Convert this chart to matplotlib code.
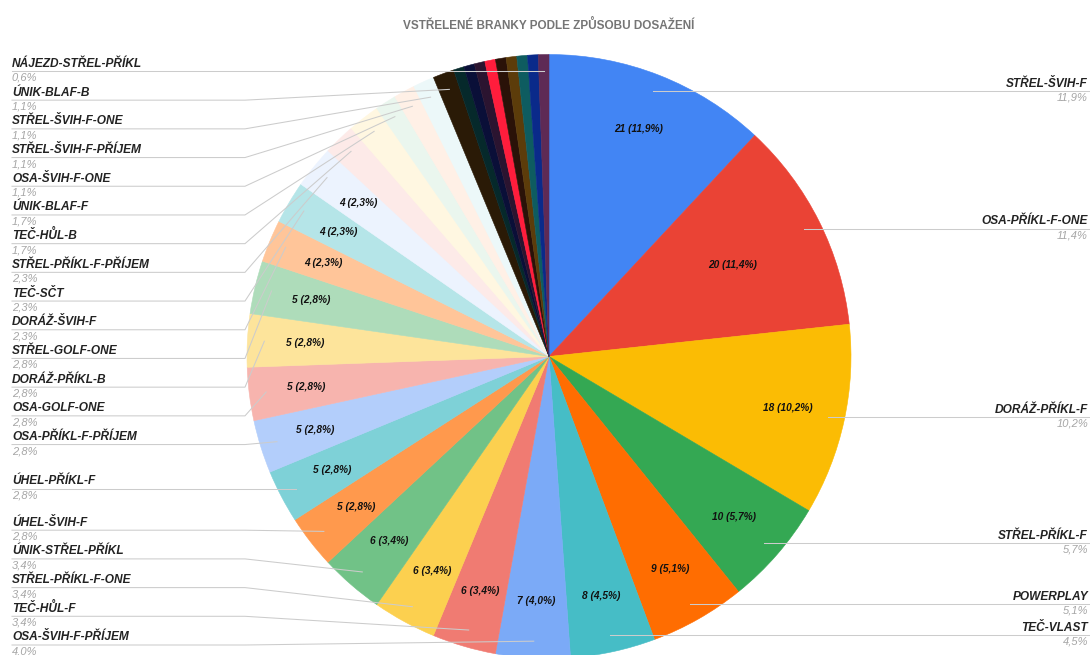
"""Goals by type of scoring: Google-Sheets-style pie with leader-line labels."""

import matplotlib

matplotlib.use("Agg")
import matplotlib.pyplot as plt  # noqa: E402
import numpy as np  # noqa: E402

plt.rcParams["font.family"] = ["Liberation Sans", "DejaVu Sans"]

TITLE = "VSTŘELENÉ BRANKY PODLE ZPŮSOBU DOSAŽENÍ"

# slices in clock order from 12 o'clock; "" = slice whose label is hidden
names = [
    "STŘEL-ŠVIH-F", "OSA-PŘÍKL-F-ONE", "DORÁŽ-PŘÍKL-F", "STŘEL-PŘÍKL-F",
    "POWERPLAY", "TEČ-VLAST", "OSA-ŠVIH-F-PŘÍJEM", "TEČ-HŮL-F",
    "STŘEL-PŘÍKL-F-ONE", "ÚNIK-STŘEL-PŘÍKL", "ÚHEL-ŠVIH-F", "ÚHEL-PŘÍKL-F",
    "OSA-PŘÍKL-F-PŘÍJEM", "OSA-GOLF-ONE", "DORÁŽ-PŘÍKL-B", "STŘEL-GOLF-ONE",
    "DORÁŽ-ŠVIH-F", "TEČ-SČT", "STŘEL-PŘÍKL-F-PŘÍJEM", "TEČ-HŮL-B",
    "ÚNIK-BLAF-F", "OSA-ŠVIH-F-ONE", "STŘEL-ŠVIH-F-PŘÍJEM", "STŘEL-ŠVIH-F-ONE",
    "ÚNIK-BLAF-B", "", "", "", "", "", "", "", "", "NÁJEZD-STŘEL-PŘÍKL",
]
counts = [
    21, 20, 18, 10, 9, 8, 7, 6, 6, 6, 5, 5, 5, 5, 5, 5, 4, 4, 4, 3,
    3, 2, 2, 2, 2, 1, 1, 1, 1, 1, 1, 1, 1, 1,
]
colors = [
    "#4285f4", "#ea4335", "#fbbc04", "#34a853", "#ff6d01", "#46bdc6",
    "#7baaf7", "#f07b72", "#fcd04f", "#71c287", "#ff994d", "#7ed1d7",
    "#b3cefb", "#f7b4ae", "#fde49b", "#aedcba", "#ffc599", "#b5e5e8",
    "#ecf3fe", "#fdeae8", "#fff7e1", "#eaf6ee", "#fff0e6", "#ecf8f9",
    "#2a1a06", "#06292b", "#0a0f38", "#2b1430", "#ff1d3c", "#2a1208",
    "#5c3c0a", "#0e5c60", "#0a2a8a", "#5e2a55",
]

W, H = 1090, 655
CX, CY, R = 549, 356.5, 302
LINE_C = "#cccccc"
NAME_C = "#222222"
PCT_C = "#a6a6a6"


def spread(ys, gap, top, bottom):
    """Push sorted label rows apart so they keep at least `gap` pixels."""
    ys = list(ys)
    for i in range(len(ys)):
        lo = top if i == 0 else ys[i - 1] + gap
        ys[i] = max(ys[i], lo)
    for i in range(len(ys) - 1, -1, -1):
        hi = bottom if i == len(ys) - 1 else ys[i + 1] - gap
        ys[i] = min(ys[i], hi)
    return ys


def fmt(v):
    return f"{v:.1f}".replace(".", ",")


def main():
    total = sum(counts)
    fig = plt.figure(figsize=(W / 100, H / 100), dpi=100)
    ax = fig.add_axes([0, 0, 1, 1])

    # y axis runs downward (pixel-like), so counterclock in data = clockwise on screen
    wedges, _ = ax.pie(
        counts, colors=colors, startangle=-90, counterclock=True,
        center=(CX, CY), radius=R, wedgeprops=dict(linewidth=0.4),
    )
    for w in wedges:
        w.set_edgecolor(w.get_facecolor())
    ax.set_xlim(0, W)
    ax.set_ylim(H, 0)
    ax.set_aspect("equal")
    ax.set_axis_off()

    left, right = [], []
    for i, w in enumerate(wedges):
        mid = np.deg2rad((w.theta1 + w.theta2) / 2)
        pct = 100 * counts[i] / total
        if counts[i] >= 4:
            r_in = 0.68 if i == 1 else 0.81
            ax.text(CX + r_in * R * np.cos(mid), CY + r_in * R * np.sin(mid),
                    f"{counts[i]} ({fmt(pct)}%)", ha="center", va="center",
                    fontsize=7.3, fontweight="bold", fontstyle="italic",
                    color="#111111")
        if not names[i]:
            continue
        anchor = (CX + 0.944 * R * np.cos(mid), CY + 0.944 * R * np.sin(mid))
        (right if anchor[0] > CX + 1 else left).append((anchor, names[i], pct))

    for side in (left, right):
        side.sort(key=lambda t: t[0][1])
        rows = spread([a[1] for a, _, _ in side], 28.7, 69, 645)
        for (anc, name, pct), ly in zip(side, rows):
            if side is left:
                ax.plot([12, 245, anc[0]], [ly, ly, anc[1]], color=LINE_C, lw=0.75)
                x, ha = 12, "left"
            else:
                ax.plot([anc[0], W], [anc[1], ly], color=LINE_C, lw=0.75)
                x, ha = W - 2, "right"
            ax.text(x, ly - 1.5, name, ha=ha, va="bottom", fontsize=8.6,
                    fontweight="bold", fontstyle="italic", color=NAME_C)
            ax.text(x, ly + 1.5, f"{fmt(pct)}%", ha=ha, va="top", fontsize=8,
                    fontstyle="italic", color=PCT_C)

    ax.text(549, 25, TITLE, ha="center", va="center", fontsize=8.5,
            fontweight="bold", color="#757575")
    fig.savefig("out.png", dpi=100)


if __name__ == "__main__":
    main()
